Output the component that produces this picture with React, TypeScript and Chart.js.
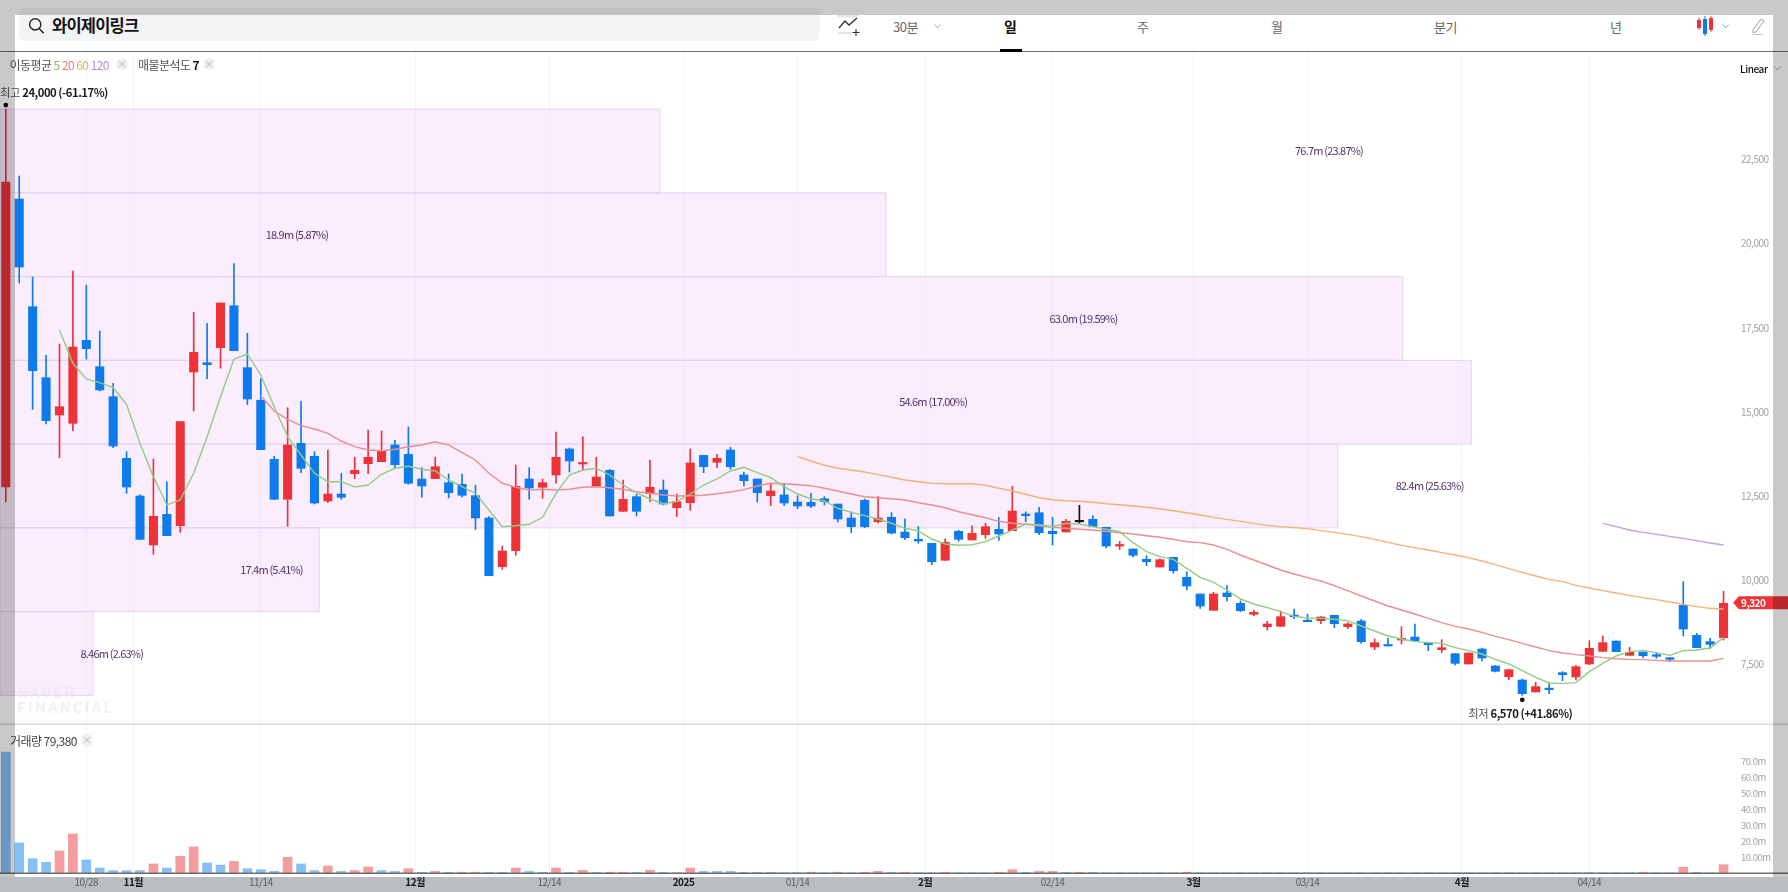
import React, { useEffect, useRef } from "react";
import { Chart, registerables } from "chart.js";

Chart.register(...registerables);

const FONT = "'Noto Sans CJK KR','Noto Sans',sans-serif";
const RED = "#ee3338";
const BLUE = "#0d7bec";

// direction: 1 rising (red), -1 falling (blue), 0 unchanged (black)
const highs = [24000,22011,19008,16680,17016,19187,18770,17403,15848,13814,12530,13597,12922,14706,17959,17632,18235,19404,17334,15985,13678,15122,15313,13814,13865,13172,13648,14460,14430,14153,14549,13339,13648,13151,13151,12815,11882,11011,13419,13339,13003,14400,13924,14260,13648,13291,12973,12548,13568,12973,12557,13895,13707,13737,13945,13211,13003,12875,12854,12506,12578,12477,12259,12022,12408,12477,12000,11814,11585,11091,11219,11478,11614,11686,11864,12786,12030,12161,11864,11805,12221,11912,11567,11150,10922,10722,10633,10675,10247,9584,9633,9832,9376,9098,8771,9078,9138,8979,8910,8950,8732,8831,8246,8266,8613,8692,8137,8226,7810,7830,7978,7463,7334,7057,6958,6948,7275,7463,8196,8335,8186,7998,7860,7840,7691,9950,8414,8266,9663];
const lows = [12319,18830,15075,14638,13636,14439,16570,15619,13933,12578,11200,10764,11317,11418,15024,15985,16294,16817,15212,13874,12399,11596,13190,12260,12298,12399,13012,13160,13517,13309,12845,12459,13012,12438,12470,11507,10128,10318,10734,12399,12429,12875,13211,13250,12774,11903,12042,11903,12328,12230,11882,12072,13190,13339,13300,12795,12319,12209,12209,12120,12149,12230,11725,11406,11555,11695,11367,11198,11091,10455,10586,11150,11189,11240,11180,11466,11733,11347,11041,11427,11686,11585,10952,10901,10684,10425,10386,10200,9703,9158,9098,9376,9059,8940,8513,8623,8850,8761,8702,8583,8553,8117,7929,8038,8097,8196,7899,7840,7473,7503,7592,7265,7037,6570,6670,6621,7007,7027,7483,7879,7869,7760,7691,7671,7572,8335,7988,7968,8216];
const bodyTops = [21833,21327,18125,16014,15152,16927,17126,16341,15449,13618,12497,11894,11953,14706,16770,16460,18235,18155,16312,15343,13589,14014,14064,13678,12557,12557,13261,13648,13844,14014,13737,13003,13368,12893,12845,12506,11843,10862,12786,13003,12893,13648,13895,13478,13062,13261,12399,12477,12756,12676,12328,13478,13707,13618,13865,13122,13003,12646,12527,12319,12310,12417,12259,11843,12369,11843,11864,11427,11210,11091,11121,11448,11388,11585,11507,12051,11962,12000,11448,11745,11730,11805,11567,11041,10922,10615,10604,10675,10080,9584,9584,9614,9306,9039,8692,8910,8950,8791,8900,8950,8692,8781,8137,8068,8266,8305,8107,7988,7810,7830,7949,7443,7334,7027,6829,6769,7245,7423,7968,8137,8186,7850,7859,7780,7691,9247,8355,8167,9306];
const bodyBottoms = [12765,19305,16222,14736,14905,14659,16877,15649,13984,12765,11210,11041,11317,11614,16184,16401,16906,16817,15381,13874,12399,12399,13321,12289,12349,12459,13160,13458,13517,13428,12875,12795,13012,12595,12518,11843,10128,10395,10871,12735,12756,13122,13538,13449,12774,11903,12042,12042,12566,12259,12149,12298,13368,13499,13368,12952,12595,12506,12289,12200,12200,12328,11814,11585,11585,11733,11397,11258,11159,10544,10586,11210,11189,11347,11368,11466,11912,11406,11376,11427,11730,11585,11011,11011,10734,10544,10386,10276,9822,9227,9098,9504,9088,8979,8613,8623,8910,8761,8791,8702,8613,8167,8008,8038,8216,8196,8077,7929,7522,7503,7681,7285,7126,6621,6670,6740,7186,7116,7503,7879,7869,7760,7750,7731,7641,8543,7988,8087,8286];
const directions = [1,-1,-1,-1,1,1,-1,-1,-1,-1,-1,1,-1,1,1,-1,1,-1,-1,-1,-1,1,-1,-1,1,-1,1,1,1,-1,-1,-1,1,-1,-1,-1,-1,1,1,-1,1,1,-1,1,1,-1,1,-1,1,-1,1,1,-1,1,-1,-1,-1,1,-1,-1,-1,-1,-1,-1,-1,1,-1,-1,-1,-1,1,-1,1,1,-1,1,-1,-1,-1,1,0,-1,-1,1,-1,-1,1,-1,-1,-1,1,-1,-1,1,1,1,-1,-1,1,-1,1,-1,1,-1,1,-1,-1,1,-1,1,-1,-1,1,-1,1,-1,-1,1,1,1,-1,1,-1,-1,-1,-1,-1,-1,1];

const ma5Start = 4;
const ma5 = [17432,16442,15976,15866,15717,15223,14064,13072,12230,12378,13172,14260,15449,16570,16719,16095,15152,14260,13716,13172,12922,12922,12765,12824,13142,13321,13380,13291,13241,12973,12774,12578,12081,11585,11614,11656,11864,12578,13122,13270,13321,13122,12824,12595,12408,12268,12328,12557,12824,13003,13241,13350,13190,13042,12774,12557,12417,12349,12132,12012,11912,11805,11686,11537,11457,11219,11070,11031,11050,11139,11308,11486,11665,11644,11585,11686,11665,11585,11507,11436,11109,10841,10693,10615,10348,10079,9931,9703,9435,9286,9177,9059,8920,8870,8860,8831,8791,8632,8484,8335,8246,8167,8137,8117,7988,7899,7800,7641,7503,7305,7106,6938,6928,6948,7275,7522,7741,7870,7909,7840,7760,7899,7919,7978,8286];
const ma20Start = 19;
const ma20 = [15479,15024,14778,14587,14489,14361,14132,13963,13865,13844,13886,13963,14014,14111,14014,13785,13568,13172,12875,12756,12676,12697,12676,12697,12756,12774,12744,12697,12625,12578,12527,12497,12506,12518,12566,12616,12685,12795,12875,12863,12833,12804,12726,12646,12557,12477,12447,12417,12378,12298,12230,12149,12030,11941,11852,11745,11686,11656,11614,11567,11537,11507,11486,11448,11406,11368,11317,11269,11210,11139,11110,11040,10912,10743,10595,10446,10297,10178,10069,9970,9832,9683,9524,9376,9227,9108,8989,8860,8732,8623,8543,8444,8325,8226,8117,8008,7899,7830,7780,7741,7691,7661,7641,7632,7612,7592,7592,7592,7592,7671];
const ma60Start = 59;
const ma60 = [13666,13538,13410,13321,13270,13211,13131,13053,12973,12922,12875,12863,12863,12863,12815,12726,12646,12548,12447,12387,12358,12340,12310,12268,12239,12200,12161,12120,12060,12001,11932,11863,11804,11744,11685,11625,11586,11556,11526,11467,11417,11358,11288,11209,11120,11031,10961,10892,10813,10743,10664,10565,10456,10337,10228,10119,10020,9950,9841,9762,9683,9614,9544,9475,9415,9346,9277,9207,9158,9138];
const ma120Start = 119;
const ma120 = [11685,11586,11486,11417,11358,11298,11239,11169,11100,11041];

const volumes = [76.1,18.9,9.0,6.7,13.8,24.5,8.2,3.1,1.5,1.5,1.5,5.7,3.1,10.5,16.4,6.3,5.0,7.3,2.7,2.1,1.0,9.9,5.7,1.5,4.4,1.0,1.5,3.8,1.5,1.0,2.7,0.4,1.0,0.4,0.5,0.5,0.4,0.4,3.1,1.0,0.4,3.1,0.4,1.7,0.4,0.5,0.5,0.4,1.7,0.4,0.1,3.1,1.0,1.0,1.0,0.4,0.4,0.4,0.1,0.1,0.5,0.1,0.5,0.1,0.5,1.0,0.4,0.5,0.1,0.1,0.5,0.1,0.1,0.1,0.5,2.1,0.4,1.0,1.0,0.4,0.5,0.4,0.1,0.1,0.1,0.1,0.1,0.1,0.5,0.1,0.1,0.1,0.1,0.1,0.1,0.1,0.1,0.1,0.1,0.1,0.1,0.1,0.1,0.1,0.1,0.1,0.1,0.1,0.1,0.1,0.1,0.1,0.1,0.1,0.1,0.1,0.1,0.1,0.1,0.1,0.1,0.1,0.5,0.1,0.1,3.6,0.4,0.1,5.2];
const volumeRising = [0,0,0,0,1,1,0,0,0,0,0,1,0,1,1,0,0,1,0,0,0,1,0,0,1,0,1,1,0,0,1,0,1,0,1,1,0,0,1,0,0,1,0,1,0,1,1,0,1,0,0,1,0,0,0,0,0,0,0,0,1,0,1,0,1,1,0,1,0,0,1,0,0,0,1,1,0,1,1,0,1,0,0,0,0,0,0,0,1,0,0,0,0,0,0,0,0,0,0,0,0,0,0,0,0,0,0,0,0,0,0,0,0,0,0,0,0,0,0,0,0,0,1,0,0,1,0,0,1];

const dateTicks = [6,9.5,19,30.5,40.5,50.5,59,68.5,78,88.5,97,108.5,118];
const dateLabels = ["10/28","11월","11/14","12월","12/14","2025","01/14","2월","02/14","3월","03/14","4월","04/14"];
const strongDateLabels = ["11월","12월","2025","2월","3월","4월"];

const priceTicks = [22500,20000,17500,15000,12500,10000,7500];
const volumeTicks = [10,20,30,40,50,60,70];

const profileEdges = [24000,21510,19020,16530,14040,11550,9060,6570];
const profileReach = [48.75,65.6,104.1,109.2,99.25,23.35,6.5];
const profileLabelAt = [98.6,21.7,80.3,69.1,106.1,19.8,7.9];
const profileLabels = ["76.7m (23.87%)","18.9m (5.87%)","63.0m (19.59%)","54.6m (17.00%)","82.4m (25.63%)","17.4m (5.41%)","8.46m (2.63%)"];

const currentPrice = 9320;
const highestIndex = 0;
const highestPrice = 24000;
const lowestIndex = 113;
const lowestPrice = 6570;

const indexes = highs.map((_, i) => i);
const candleColor = (i: number) => (directions[i] > 0 ? RED : directions[i] < 0 ? BLUE : "#111");
const series = (values: number[], start: number) => values.map((y, i) => ({ x: start + i, y }));

const line = (label: string, values: number[], start: number, color: string) => ({
  type: "line" as const,
  label,
  data: series(values, start),
  borderColor: color,
  borderWidth: 1.4,
  pointRadius: 0,
  tension: 0,
  yAxisID: "y",
  order: 0,
});

const twoPart = (ctx: CanvasRenderingContext2D, a: string, b: string, x: number, y: number) => {
  ctx.textAlign = "left";
  ctx.textBaseline = "middle";
  ctx.font = `400 11.3px ${FONT}`;
  ctx.fillStyle = "#555";
  ctx.fillText(a, x, y);
  const w = ctx.measureText(a).width;
  ctx.font = `600 11.3px ${FONT}`;
  ctx.fillStyle = "#1c1c1c";
  ctx.fillText(b, x + w + 2.5, y);
};

const paintPlugin = {
  id: "paint",
  beforeDraw(chart: any) {
    (chart.ctx as any).letterSpacing = "-0.5px";
  },
  beforeDatasetsDraw(chart: any) {
    const { ctx, scales } = chart;
    const left = chart.chartArea.left;
    ctx.save();
    profileReach.forEach((reach, i) => {
      const top = scales.y.getPixelForValue(profileEdges[i]);
      const bottom = scales.y.getPixelForValue(profileEdges[i + 1]);
      const right = scales.x.getPixelForValue(reach);
      ctx.fillStyle = "rgba(243,214,252,0.45)";
      ctx.fillRect(left, top, right - left, bottom - top);
      ctx.strokeStyle = "rgba(226,203,238,0.8)";
      ctx.lineWidth = 1;
      ctx.strokeRect(left, top, right - left, bottom - top);
    });
    ctx.restore();
  },
  afterDatasetsDraw(chart: any) {
    const { ctx, scales } = chart;
    ctx.save();
    ctx.font = `400 11px ${FONT}`;
    (ctx as any).letterSpacing = "-0.8px";
    ctx.fillStyle = "#52346a";
    ctx.textAlign = "center";
    ctx.textBaseline = "middle";
    profileLabels.forEach((text, i) => {
      const mid = (scales.y.getPixelForValue(profileEdges[i]) + scales.y.getPixelForValue(profileEdges[i + 1])) / 2;
      ctx.fillText(text, scales.x.getPixelForValue(profileLabelAt[i]), mid);
    });
    (ctx as any).letterSpacing = "-0.5px";
    // extremes
    const hx = scales.x.getPixelForValue(highestIndex);
    const hy = scales.y.getPixelForValue(highestPrice);
    ctx.fillStyle = "#111";
    ctx.beginPath();
    ctx.arc(hx, hy - 4, 2.4, 0, Math.PI * 2);
    ctx.fill();
    twoPart(ctx, "최고", "24,000 (-61.17%)", 0, hy - 16);
    const lx = scales.x.getPixelForValue(lowestIndex);
    const ly = scales.y.getPixelForValue(lowestPrice);
    ctx.fillStyle = "#111";
    ctx.beginPath();
    ctx.arc(lx, ly + 4.5, 2.4, 0, Math.PI * 2);
    ctx.fill();
    twoPart(ctx, "최저", "6,570 (+41.86%)", lx - 54, ly + 18);
    ctx.restore();
  },
  afterDraw(chart: any) {
    const { ctx, scales, chartArea, width } = chart;
    ctx.save();
    // pane separators
    const paneY = scales.y.bottom;
    ctx.fillStyle = "#d9d9e3";
    ctx.fillRect(0, paneY - 0.5, width, 1.5);
    ctx.fillStyle = "#6e6e6e";
    ctx.fillRect(0, chartArea.bottom - 0.5, width, 1.5);
    // current price tag
    const py = scales.y.getPixelForValue(currentPrice);
    const x0 = chartArea.right + 1;
    ctx.fillStyle = RED;
    ctx.beginPath();
    ctx.moveTo(x0, py);
    ctx.lineTo(x0 + 6, py - 6.5);
    ctx.lineTo(width, py - 6.5);
    ctx.lineTo(width, py + 6.5);
    ctx.lineTo(x0 + 6, py + 6.5);
    ctx.closePath();
    ctx.fill();
    ctx.fillStyle = "#fff";
    ctx.font = `600 10px ${FONT}`;
    ctx.textAlign = "left";
    ctx.textBaseline = "middle";
    ctx.fillText(currentPrice.toLocaleString("en-US"), 1741, py + 0.5);
    ctx.restore();
  },
};

const T = ({ x, y, style, children }: any) => (
  <div style={{ position: "absolute", left: x, top: y, transform: "translateY(-50%)", whiteSpace: "nowrap", fontFamily: FONT, ...style }}>
    {children}
  </div>
);

const Close = ({ x, y }: any) => (
  <div style={{ position: "absolute", left: x - 6, top: y - 6, width: 12, height: 12, borderRadius: 6, background: "#f1f1f1", color: "#b5b5b5", fontSize: 10, lineHeight: "12px", textAlign: "center", fontFamily: FONT }}>×</div>
);

const Chev = ({ x, y }: any) => (
  <svg style={{ position: "absolute", left: x - 3, top: y - 2 }} width="7" height="5" viewBox="0 0 7 5">
    <path d="M0.5 0.5 L3.5 3.8 L6.5 0.5" fill="none" stroke="#999" strokeWidth="0.9" />
  </svg>
);

const tabStyle = { fontSize: 13, color: "#666", letterSpacing: -0.5 };
const legendStyle = { fontSize: 12, color: "#555", letterSpacing: -0.55 };

export default function App() {
  const ref = useRef<HTMLCanvasElement>(null);

  useEffect(() => {
    const chart = new Chart(ref.current as HTMLCanvasElement, {
      type: "bar",
      data: {
        datasets: [
          line("이동평균 5", ma5, ma5Start, "#92cc82"),
          line("이동평균 20", ma20, ma20Start, "#ea8f90"),
          line("이동평균 60", ma60, ma60Start, "#f5b273"),
          line("이동평균 120", ma120, ma120Start, "#c49ee2"),
          {
            label: "body",
            data: indexes.map((i) => ({ x: i, y: [bodyBottoms[i], bodyTops[i]] })),
            backgroundColor: indexes.map(candleColor),
            barThickness: 8.4,
            minBarLength: 1.5,
            yAxisID: "y",
            order: 1,
          },
          {
            label: "wick",
            data: indexes.map((i) => ({ x: i, y: [lows[i], highs[i]] })),
            backgroundColor: indexes.map(candleColor),
            barThickness: 1,
            yAxisID: "y",
            order: 2,
          },
          {
            label: "거래량",
            data: indexes.map((i) => ({ x: i, y: volumes[i] })),
            backgroundColor: indexes.map((i) => (volumeRising[i] ? "#f59c9e" : "#86bff6")),
            barThickness: 9,
            yAxisID: "v",
            order: 3,
          },
        ] as any,
      },
      options: {
        responsive: false,
        animation: false,
        devicePixelRatio: 1,
        parsing: { xAxisKey: "x", yAxisKey: "y" },
        layout: { autoPadding: false, padding: { top: 52, left: 0, right: 0, bottom: 0 } },
        datasets: { bar: { grouped: false, borderWidth: 0 } },
        plugins: { legend: { display: false }, tooltip: { enabled: false } },
        scales: {
          x: {
            type: "linear",
            min: -0.432,
            max: 128.63,
            offset: false,
            afterFit: (s: any) => { s.height = 19; },
            afterBuildTicks: (s: any) => { s.ticks = dateTicks.map((value) => ({ value })); },
            grid: { color: "#f4f4f7", drawTicks: false, offset: false },
            border: { display: false },
            ticks: {
              autoSkip: false,
              maxRotation: 0,
              padding: 3,
              font: (c: any) => ({
                family: FONT,
                size: 10,
                weight: strongDateLabels.includes(dateLabels[dateTicks.indexOf(c.tick?.value)]) ? "700" : "400",
              }),
              color: (c: any) => (strongDateLabels.includes(dateLabels[dateTicks.indexOf(c.tick?.value)]) ? "#222" : "#7d7d7d"),
              callback: (v: any) => dateLabels[dateTicks.indexOf(v)],
            },
          },
          y: {
            type: "linear",
            position: "right",
            stack: "panes",
            stackWeight: 672,
            weight: 1,
            min: 5719,
            max: 25697,
            afterFit: (s: any) => { s.width = 56; },
            afterBuildTicks: (s: any) => { s.ticks = priceTicks.map((value) => ({ value })); },
            grid: { display: false, drawTicks: false },
            border: { display: false },
            ticks: {
              autoSkip: false,
              padding: 9,
              color: "#a2a2a2",
              font: { family: FONT, size: 10 },
              callback: (v: any) => Number(v).toLocaleString("en-US"),
            },
          },
          v: {
            type: "linear",
            axis: "y",
            position: "right",
            stack: "panes",
            stackWeight: 149,
            weight: 2,
            min: 0,
            max: 93.7,
            afterFit: (s: any) => { s.width = 56; },
            afterBuildTicks: (s: any) => { s.ticks = volumeTicks.map((value) => ({ value })); },
            grid: { display: false, drawTicks: false },
            border: { display: false },
            ticks: {
              autoSkip: false,
              padding: 9,
              color: "#a2a2a2",
              font: { family: FONT, size: 9.5 },
              callback: (v: any) => (v === 10 ? "10.00m" : `${Number(v).toFixed(1)}m`),
            },
          },
        },
      } as any,
      plugins: [paintPlugin as any],
    });
    return () => chart.destroy();
  }, []);

  return (
    <div style={{ position: "fixed", left: 0, top: 0, width: 1788, height: 892, overflow: "hidden", background: "#fff", filter: "blur(0.3px)" }}>
      <canvas ref={ref} width={1788} height={892} style={{ position: "absolute", left: 0, top: 0, width: 1788, height: 892 }} />

      {/* header */}
      <div style={{ position: "absolute", left: 0, top: 0, width: 1788, height: 51, background: "#fff", borderBottom: "1.5px solid #6e6e6e" }} />
      <div style={{ position: "absolute", left: 19, top: 8, width: 801, height: 33, background: "#f3f4f6", borderRadius: 6 }} />
      <svg style={{ position: "absolute", left: 28, top: 17 }} width="17" height="18" viewBox="0 0 17 18">
        <circle cx="7.2" cy="7.4" r="5.6" fill="none" stroke="#222" strokeWidth="1.4" />
        <path d="M11.4 11.8 L15.6 16.2" stroke="#222" strokeWidth="1.5" />
      </svg>
      <T x={52} y={25} style={{ fontSize: 16.5, fontWeight: 700, color: "#111", letterSpacing: -0.8 }}>와이제이링크</T>

      <svg style={{ position: "absolute", left: 837, top: 15 }} width="24" height="21" viewBox="0 0 24 21">
        <path d="M1 1 H21 M1 18 H15" stroke="#bbb" strokeWidth="0.8" />
        <path d="M2 13 L8 6 L12 10 L20 3" fill="none" stroke="#333" strokeWidth="1.3" />
        <path d="M19 14 V21 M15.5 17.5 H22.5" stroke="#333" strokeWidth="1.1" />
      </svg>
      <T x={893} y={26} style={tabStyle}>30분</T>
      <Chev x={937} y={26} />
      <T x={1004} y={26} style={{ ...tabStyle, fontWeight: 700, color: "#111", fontSize: 14 }}>일</T>
      <div style={{ position: "absolute", left: 1000, top: 49, width: 22, height: 3, background: "#000" }} />
      <T x={1137} y={26} style={tabStyle}>주</T>
      <T x={1271} y={26} style={tabStyle}>월</T>
      <T x={1434} y={26} style={tabStyle}>분기</T>
      <T x={1610} y={26} style={tabStyle}>년</T>
      <svg style={{ position: "absolute", left: 1696, top: 15 }} width="18" height="22" viewBox="0 0 18 22">
        <path d="M3 3 V15" stroke={RED} strokeWidth="1" />
        <rect x="1" y="5" width="4" height="8" fill={RED} />
        <path d="M9 1 V21" stroke={BLUE} strokeWidth="1" />
        <rect x="7" y="4" width="4" height="15" fill={BLUE} />
        <path d="M15 1 V17" stroke={RED} strokeWidth="1" />
        <rect x="13" y="3" width="4" height="12" fill={RED} />
      </svg>
      <Chev x={1725} y={26} />
      <svg style={{ position: "absolute", left: 1751, top: 17 }} width="16" height="18" viewBox="0 0 16 18">
        <path d="M2 13 L10 2 L13 4 L5 15 L2 15.5 Z" fill="none" stroke="#999" strokeWidth="0.9" />
        <path d="M1 17.5 H12" stroke="#bbb" strokeWidth="0.8" />
      </svg>

      {/* legends */}
      <T x={9.5} y={63.5} style={legendStyle}>
        이동평균 <span style={{ color: "#78c060" }}>5</span> <span style={{ color: "#ea7a7c" }}>20</span>{" "}
        <span style={{ color: "#f5a85e" }}>60</span> <span style={{ color: "#b58bdc" }}>120</span>
      </T>
      <Close x={122} y={64} />
      <T x={138} y={63.5} style={legendStyle}>
        매물분석도 <b style={{ color: "#111" }}>7</b>
      </T>
      <Close x={209} y={64} />
      <T x={1740} y={68} style={{ fontSize: 10, fontWeight: 500, color: "#111", letterSpacing: -0.4 }}>Linear</T>
      <Chev x={1777} y={68} />
      <T x={10} y={739.5} style={{ ...legendStyle, color: "#444" }}>거래량 79,380</T>
      <Close x={87} y={740} />

      {/* watermark */}
      <T x={17} y={691} style={{ fontSize: 15, fontWeight: 700, color: "rgba(225,228,235,0.5)", letterSpacing: 2 }}>NAVER</T>
      <T x={17} y={706} style={{ fontSize: 15, fontWeight: 700, color: "rgba(225,228,235,0.5)", letterSpacing: 2 }}>FINANCIAL</T>

      {/* dimmed frame */}
      <div style={{ position: "absolute", left: 0, top: 0, width: 1788, height: 15, background: "rgba(0,0,0,0.21)" }} />
      <div style={{ position: "absolute", left: 0, top: 15, width: 15, height: 862, background: "rgba(0,0,0,0.21)" }} />
      <div style={{ position: "absolute", left: 1773, top: 15, width: 15, height: 862, background: "rgba(0,0,0,0.21)" }} />
      <div style={{ position: "absolute", left: 0, top: 877, width: 1788, height: 15, background: "rgba(0,10,30,0.27)" }} />
    </div>
  );
}
